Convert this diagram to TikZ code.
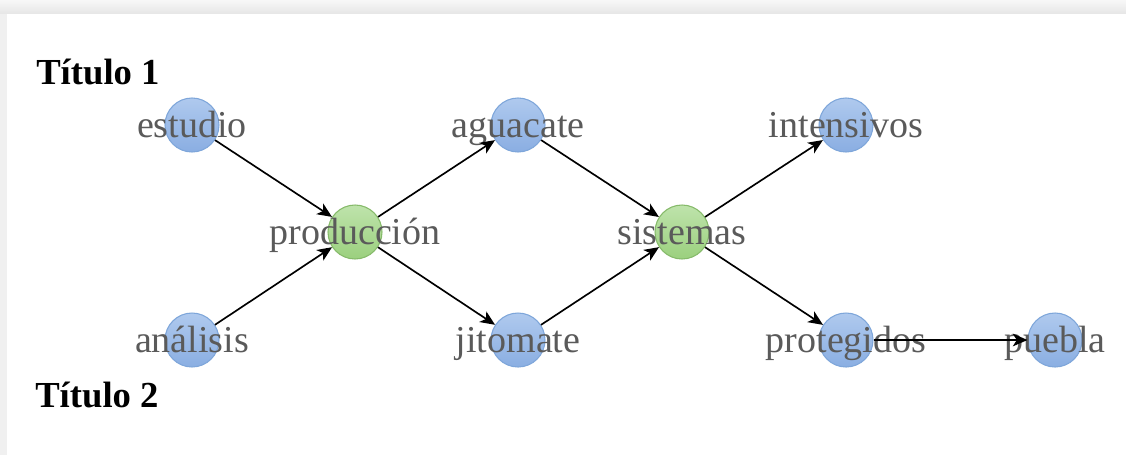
\documentclass[tikz,border=0pt]{standalone}
\usepackage{fontspec}
\setmainfont{Liberation Serif}
\usetikzlibrary{arrows.meta}
\definecolor{bluetop}{HTML}{AFC9EE}
\definecolor{bluebot}{HTML}{8AAEE2}
\definecolor{blueline}{HTML}{7EA6DA}
\definecolor{greentop}{HTML}{BEE3AB}
\definecolor{greenbot}{HTML}{9BD07E}
\definecolor{greenline}{HTML}{86BA6A}
\definecolor{labelgray}{HTML}{5A5A5A}
\tikzset{
  bluenode/.style={circle, minimum size=40.5pt, inner sep=0pt, draw=blueline, line width=0.8pt, top color=bluetop, bottom color=bluebot},
  greennode/.style={circle, minimum size=40.5pt, inner sep=0pt, draw=greenline, line width=0.8pt, top color=greentop, bottom color=greenbot},
  lbl/.style={anchor=base, inner sep=0pt, text=labelgray, font=\fontsize{28.5}{30}\selectfont},
  ttl/.style={anchor=base west, inner sep=0pt, font=\fontsize{27.5}{30}\selectfont\bfseries},
  conn/.style={-{Stealth[length=11pt,width=9.5pt,inset=3pt]}, line width=1.25pt, black}
}
\begin{document}
\begin{tikzpicture}[x=0.75pt,y=-0.75pt]
\useasboundingbox (0,0) rectangle (1126,455);
% page background
\shade[top color=black!3, bottom color=black!10] (0,0) rectangle (1126,14);
\fill[black!6] (0,14) rectangle (7,455);
\fill[white] (7,14) rectangle (1126,455);
% circles
\node[bluenode] (estudio) at (192,125) {};
\node[bluenode] (analisis) at (192,340) {};
\node[greennode] (produccion) at (355,232) {};
\node[bluenode] (aguacate) at (518,125) {};
\node[bluenode] (jitomate) at (518,340) {};
\node[greennode] (sistemas) at (682,232) {};
\node[bluenode] (intensivos) at (846,125) {};
\node[bluenode] (protegidos) at (846,340) {};
\node[bluenode] (puebla) at (1055,340) {};
% labels
\node[lbl] (l-estudio) at (192,137.5) {estudio};
\node[lbl] (l-analisis) at (192,352.5) {análisis};
\node[lbl] (l-produccion) at (355,244.5) {producción};
\node[lbl] (l-aguacate) at (518,137.5) {aguacate};
\node[lbl] (l-jitomate) at (518,352.5) {jitomate};
\node[lbl] (l-sistemas) at (682,244.5) {sistemas};
\node[lbl] (l-intensivos) at (846,137.5) {intensivos};
\node[lbl] (l-protegidos) at (846,352.5) {protegidos};
\node[lbl] (l-puebla) at (1055,352.5) {puebla};
% titles
\node[ttl] (t1) at (36,84) {Título 1};
\node[ttl] (t2) at (35,407) {Título 2};
% connectors
\draw[conn] (estudio) -- (produccion);
\draw[conn] (analisis) -- (produccion);
\draw[conn] (produccion) -- (aguacate);
\draw[conn] (produccion) -- (jitomate);
\draw[conn] (aguacate) -- (sistemas);
\draw[conn] (jitomate) -- (sistemas);
\draw[conn] (sistemas) -- (intensivos);
\draw[conn] (sistemas) -- (protegidos);
\draw[conn] (protegidos) -- (puebla);
\end{tikzpicture}
\end{document}
